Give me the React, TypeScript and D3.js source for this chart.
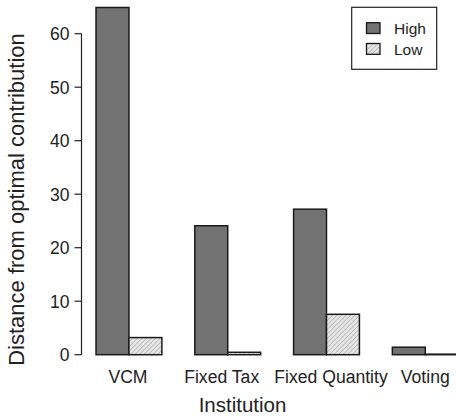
import React from "react";
import * as d3 from "d3";

const institutions = ["VCM", "Fixed Tax", "Fixed Quantity", "Voting"];
const seriesNames = ["High", "Low"];
const highValues = [64.9, 24.1, 27.2, 1.4];
const lowValues = [3.2, 0.45, 7.55, 0.1];
const yTicks = [0, 10, 20, 30, 40, 50, 60];

const W = 456;
const H = 416;
const FONT = "'Liberation Sans', Arial, Helvetica, sans-serif";
const INK = "#222";
const HIGH_FILL = "#727272";
// small horizontal nudges so neighbouring long names keep a gap
const LABEL_NUDGE = [-1, -6, 4.5, 0];

// Bar units: each group takes two unit-wide bars plus one unit of space before it.
const x = d3.scaleLinear().domain([0, 12]).range([63.1, 458.2]);
const y = d3.scaleLinear().domain([0, 60]).range([354.7, 33.7]);

export default function App() {
  const bars: { key: string; x0: number; x1: number; v: number; s: number }[] = [];
  institutions.forEach((_, i) => {
    const start = i * 3 + 1;
    [highValues[i], lowValues[i]].forEach((v, s) => {
      bars.push({ key: `${i}-${s}`, x0: x(start + s), x1: x(start + s + 1), v, s });
    });
  });
  const axisX = 81.5;

  return (
    <svg
      width={W}
      height={H}
      style={{ position: "absolute", left: 0, top: 0, background: "#fff" }}
      fontFamily={FONT}
    >
      <defs>
        <pattern id="hatch" width="3.2" height="3.2" patternUnits="userSpaceOnUse" patternTransform="rotate(45)">
          <rect width="3.2" height="3.2" fill="#e6e6e6" />
          <line x1="0" y1="0" x2="0" y2="3.2" stroke="#a0a0a0" strokeWidth="1.1" />
        </pattern>
      </defs>

      {/* bars */}
      {bars.map((b) => (
        <rect
          key={b.key}
          x={b.x0}
          y={y(b.v)}
          width={b.x1 - b.x0}
          height={y(0) - y(b.v)}
          fill={b.s === 0 ? HIGH_FILL : "url(#hatch)"}
          stroke="#1a1a1a"
          strokeWidth={1.5}
        />
      ))}

      {/* y axis */}
      <line x1={axisX} x2={axisX} y1={y(0)} y2={y(60)} stroke={INK} strokeWidth={1.2} />
      {yTicks.map((t) => (
        <g key={t}>
          <line x1={axisX - 7} x2={axisX} y1={y(t)} y2={y(t)} stroke={INK} strokeWidth={1.2} />
          <text x={axisX - 12} y={y(t)} dy="0.36em" textAnchor="end" fontSize={17.5} fill={INK}>
            {t}
          </text>
        </g>
      ))}

      {/* category labels */}
      {institutions.map((name, i) => (
        <text
          key={name}
          x={x(i * 3 + 2) + LABEL_NUDGE[i]}
          y={383}
          textAnchor="middle"
          fontSize={17.6}
          fill={INK}
        >
          {name}
        </text>
      ))}

      {/* axis titles */}
      <text x={242.5} y={412} textAnchor="middle" fontSize={20.5} fill={INK}>
        Institution
      </text>
      <text
        transform={`translate(24,199.5) rotate(-90)`}
        textAnchor="middle"
        fontSize={22}
        fill={INK}
      >
        Distance from optimal contribution
      </text>

      {/* legend */}
      <rect x={351.7} y={7.3} width={85} height={62} fill="#fff" stroke={INK} strokeWidth={1.2} />
      {seriesNames.map((name, i) => (
        <g key={name}>
          <rect
            x={366.5}
            y={22.7 + i * 20.8}
            width={13.5}
            height={10.8}
            fill={i === 0 ? HIGH_FILL : "url(#hatch)"}
            stroke="#1a1a1a"
            strokeWidth={1.3}
          />
          <text x={394} y={34.3 + i * 20.8} fontSize={15.5} fill={INK}>
            {name}
          </text>
        </g>
      ))}
    </svg>
  );
}
